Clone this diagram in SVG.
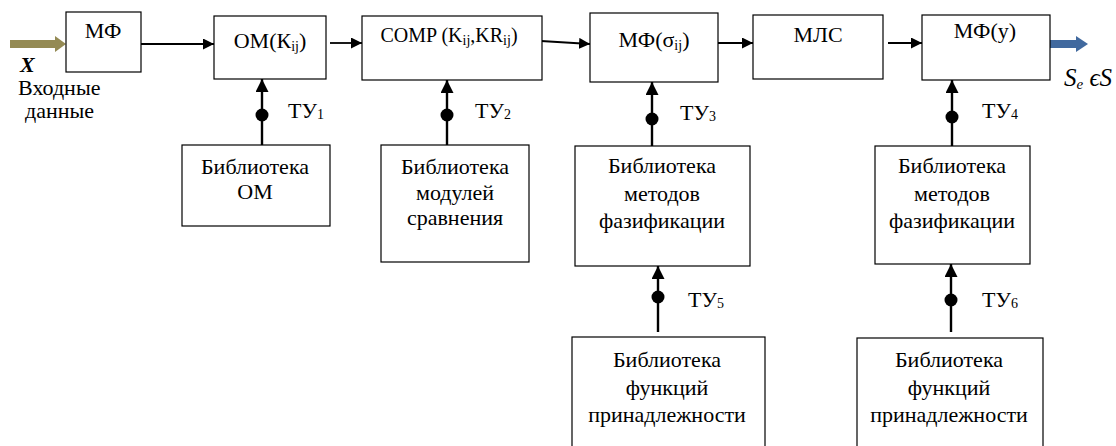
<svg xmlns="http://www.w3.org/2000/svg" width="1116" height="446" viewBox="0 0 1116 446">
<defs>
<style>
.box{fill:#fff;stroke:#000;stroke-width:1.2}
.t{font-size:22px;fill:#000;text-anchor:middle}
.tl{font-size:22px;fill:#000}
.sub{font-size:14px}
.h{stroke:#000;stroke-width:1.8;fill:none;marker-end:url(#ah)}
.v{stroke:#000;stroke-width:2.4;fill:none;marker-end:url(#av)}
.dot{fill:#000}
</style>
<marker id="ah" markerUnits="userSpaceOnUse" markerWidth="11" markerHeight="11" refX="11" refY="5.5" orient="auto"><path d="M0,0 L11,5.5 L0,11 z" fill="#000"/></marker>
<marker id="av" markerUnits="userSpaceOnUse" markerWidth="13" markerHeight="13" refX="13" refY="6.5" orient="auto"><path d="M0,0 L13,6.5 L0,13 z" fill="#000"/></marker>
</defs>
<rect width="1116" height="446" fill="#fff"/>
<g font-family="Liberation Serif, Tinos, DejaVu Serif, serif">

<g id="connectors">
<line x1="10" y1="44" x2="57" y2="44" stroke="#948A54" stroke-width="8"/>
<polygon points="55,36 66,44 55,52" fill="#948A54"/>
<line class="h" x1="141" y1="44" x2="214" y2="44"/>
<line class="h" x1="330" y1="43" x2="362" y2="43"/>
<line class="h" x1="541" y1="41" x2="590" y2="44"/>
<line class="h" x1="718" y1="43" x2="753" y2="43"/>
<line class="h" x1="888" y1="43" x2="922" y2="43"/>
<line x1="1048" y1="44" x2="1078" y2="44" stroke="#41699E" stroke-width="8"/>
<polygon points="1076,36 1088,44 1076,52" fill="#41699E"/>
<line class="v" x1="262" y1="145" x2="262" y2="79"/>
<line class="v" x1="447" y1="145" x2="447" y2="80"/>
<line class="v" x1="652" y1="146" x2="652" y2="82"/>
<line class="v" x1="952" y1="146" x2="952" y2="80"/>
<line class="v" x1="658" y1="332" x2="658" y2="266"/>
<line class="v" x1="951" y1="332" x2="951" y2="264"/>
<circle class="dot" cx="262" cy="115" r="6.5"/>
<circle class="dot" cx="447" cy="115" r="6.5"/>
<circle class="dot" cx="652" cy="119" r="6.5"/>
<circle class="dot" cx="952" cy="117" r="6.5"/>
<circle class="dot" cx="658" cy="297" r="6.5"/>
<circle class="dot" cx="951" cy="300" r="6.5"/>
<text class="tl" x="288" y="118">ТУ<tspan class="sub" dy="1">1</tspan></text>
<text class="tl" x="475" y="118">ТУ<tspan class="sub" dy="1">2</tspan></text>
<text class="tl" x="680" y="120">ТУ<tspan class="sub" dy="1">3</tspan></text>
<text class="tl" x="982" y="118">ТУ<tspan class="sub" dy="1">4</tspan></text>
<text class="tl" x="688" y="307">ТУ<tspan class="sub" dy="1">5</tspan></text>
<text class="tl" x="982" y="307">ТУ<tspan class="sub" dy="1">6</tspan></text>
</g>

<g id="input-label">
<text class="tl" x="20" y="72" font-weight="bold" font-style="italic">X</text>
<text class="tl" x="18" y="95">Входные</text>
<text class="tl" x="25" y="118">данные</text>
</g>

<g id="output-label">
<text class="tl" x="1064" y="86" style="font-size:25px;font-style:italic">S<tspan style="font-size:15px" dy="3">e</tspan><tspan dy="-3"> ϵS</tspan></text>
</g>

<g id="mf">
<rect class="box" x="66" y="12" width="75" height="60"/>
<text class="t" x="103" y="38">МФ</text>
</g>
<g id="om">
<rect class="box" x="214" y="16" width="112" height="63"/>
<text class="t" x="270" y="48">ОМ(К<tspan class="sub" dy="3">ij</tspan><tspan dy="-3">)</tspan></text>
</g>
<g id="comp">
<rect class="box" x="362" y="16" width="180" height="64"/>
<text class="t" x="449" y="42" style="font-size:20px">COMP (K<tspan class="sub" dy="3">ij</tspan><tspan dy="-3">,KR</tspan><tspan class="sub" dy="3">ij</tspan><tspan dy="-3">)</tspan></text>
</g>
<g id="mf-sigma">
<rect class="box" x="590" y="13" width="128" height="69"/>
<text class="t" x="654" y="47">МФ(σ<tspan class="sub" dy="3">ij</tspan><tspan dy="-3">)</tspan></text>
</g>
<g id="mls">
<rect class="box" x="753" y="15" width="130" height="64"/>
<text class="t" x="818" y="42">МЛС</text>
</g>
<g id="mf-y">
<rect class="box" x="922" y="15" width="128" height="65"/>
<text class="t" x="985" y="38">МФ(у)</text>
</g>

<g id="lib-om">
<rect class="box" x="182" y="145" width="148" height="81"/>
<text class="t" x="255" y="174">Библиотека</text>
<text class="t" x="255" y="199">ОМ</text>
</g>
<g id="lib-comp">
<rect class="box" x="381" y="145" width="148" height="117"/>
<text class="t" x="455" y="174">Библиотека</text>
<text class="t" x="455" y="200">модулей</text>
<text class="t" x="455" y="225">сравнения</text>
</g>
<g id="lib-fuzz1">
<rect class="box" x="575" y="146" width="175" height="120"/>
<text class="t" x="662" y="173">Библиотека</text>
<text class="t" x="662" y="201">методов</text>
<text class="t" x="662" y="228">фазификации</text>
</g>
<g id="lib-fuzz2">
<rect class="box" x="875" y="146" width="155" height="118"/>
<text class="t" x="952" y="173">Библиотека</text>
<text class="t" x="952" y="201">методов</text>
<text class="t" x="952" y="228">фазификации</text>
</g>
<g id="lib-mf1">
<rect class="box" x="572" y="337" width="193" height="120"/>
<text class="t" x="667" y="367">Библиотека</text>
<text class="t" x="667" y="395">функций</text>
<text class="t" x="667" y="422">принадлежности</text>
</g>
<g id="lib-mf2">
<rect class="box" x="857" y="338" width="186" height="120"/>
<text class="t" x="949" y="367">Библиотека</text>
<text class="t" x="949" y="395">функций</text>
<text class="t" x="949" y="422">принадлежности</text>
</g>
</g>
</svg>
